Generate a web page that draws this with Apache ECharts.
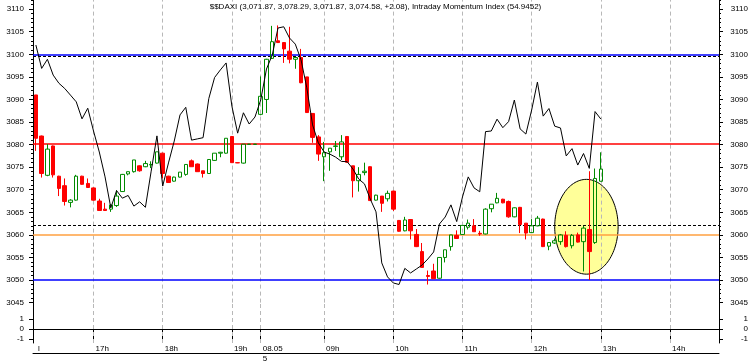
<!DOCTYPE html>
<html><head><meta charset="utf-8">
<script src="https://cdn.jsdelivr.net/npm/echarts@6/dist/echarts.min.js"></script>
<style>html,body{margin:0;padding:0;background:#fff}#c{width:751px;height:363px}</style>
</head><body><div id="c"></div>
<script>
// ---- data ----
const day1Times = ['16:10','16:15','16:20','16:25','16:30','16:35','16:40','16:45','16:50','16:55',
 '17:00','17:05','17:10','17:15','17:20','17:25','17:30','17:35','17:40','17:45','17:50','17:55',
 '18:00','18:05','18:10','18:15','18:20','18:25','18:30','18:35','18:40','18:45','18:50','18:55',
 '19:00','19:05','19:10','19:15','19:20'];
const day2Times = ['08:05','08:10','08:15','08:20','08:25','08:30','08:35','08:40','08:45','08:50','08:55',
 '09:00','09:05','09:10','09:15','09:20','09:25','09:30','09:35','09:40','09:45','09:50','09:55',
 '10:00','10:05','10:10','10:15','10:20','10:25','10:30','10:35','10:40','10:45','10:50','10:55',
 '11:00','11:05','11:10','11:15','11:20','11:25','11:30','11:35','11:40','11:45','11:50','11:55',
 '12:00','12:05','12:10','12:15','12:20','12:25','12:30','12:35','12:40','12:45','12:50','12:55',
 '13:00','13:05','13:10','13:15','13:20','13:25','13:30','13:35','13:40','13:45','13:50','13:55',
 '14:00','14:05','14:10','14:15','14:20','14:25','14:30','14:35','14:40'];
const times = day1Times.concat(day2Times);

const labelTimes = ['16:10','17:00','18:00','19:00','08:05','09:00','10:00','11:00','12:00','13:00','14:00'];
const labelTexts = ['l','17h','18h','19h','08.05\n5','09h','10h','11h','12h','13h','14h'];
const tickTimes  = ['17:00','18:00','19:00','08:05','09:00','10:00','11:00','12:00','13:00','14:00'];

const open = [3091.0,3081.9,3073.2,3079.7,3073.0,3070.9,3067.2,3067.7,3073.0,3071.4,
 3070.4,3067.5,3065.7,3065.7,3066.5,3069.6,3073.5,3074.0,3075.3,3075.1,
 3075.5,3075.9,3078.1,3073.0,3071.9,3072.8,3073.4,3076.4,3075.7,3074.2,
 3073.6,3076.5,3078.1,3078.1,3081.8,3076.0,3075.9,3080.05,3080.05,3086.7,
 3090.0,3099.1,3103.0,3102.6,3100.7,3098.9,3099.3,3095.0,3086.9,3081.7,
 3077.3,3078.4,3079.6,3077.3,3081.8,3075.3,3072.0,3073.8,3075.1,3067.7,
 3068.6,3068.0,3069.7,3063.2,3060.9,3063.4,3060.1,3056.3,3051.0,3052.0,
 3050.4,3055.0,3057.4,3059.9,3060.1,3061.7,3062.0,3060.35,3060.2,3065.8,
 3067.1,3067.9,3067.4,3064.0,3066.1,3062.6,3060.5,3062.0,3063.5,3057.5,
 3058.2,3058.5,3059.9,3057.6,3060.0,3058.5,3061.2,3058.3,3071.87];
const close = [3081.4,3073.6,3079.0,3073.3,3070.3,3067.4,3067.7,3073.0,3071.2,3070.5,
 3067.7,3065.4,3065.4,3066.6,3068.6,3073.4,3074.0,3076.6,3074.2,3075.8,
 3075.6,3078.4,3073.6,3071.6,3072.8,3073.9,3075.6,3075.1,3074.0,3073.6,
 3076.7,3078.1,3078.3,3081.4,3076.0,3075.95,3080.1,3080.1,3080.1,3090.7,
 3098.9,3102.8,3102.6,3101.2,3098.9,3099.3,3093.7,3087.1,3081.6,3077.9,
 3078.2,3079.2,3079.7,3080.6,3076.1,3072.0,3073.4,3074.1,3067.6,3068.8,
 3067.0,3069.2,3065.7,3060.8,3063.3,3060.9,3057.4,3052.8,3050.8,3050.3,
 3055.0,3056.7,3060.0,3059.2,3062.1,3062.6,3060.7,3060.2,3065.7,3066.8,
 3068.1,3067.1,3064.0,3066.0,3062.3,3060.4,3062.0,3063.7,3057.4,3058.3,
 3058.7,3060.0,3057.4,3059.9,3058.4,3061.5,3056.3,3072.50,3074.58];
const low = [3078.6,3072.7,3073.0,3072.7,3068.6,3066.5,3066.1,3067.6,3071.1,3070.4,
 3067.6,3065.4,3065.3,3065.1,3066.2,3069.5,3073.2,3073.8,3074.0,3075.0,
 3074.8,3075.8,3072.5,3071.6,3071.8,3072.7,3073.1,3075.1,3074.0,3072.7,
 3073.5,3076.4,3077.2,3078.0,3076.0,3075.9,3075.8,3080.0,3080.0,3086.5,
 3087.0,3099.0,3102.5,3098.1,3098.0,3096.8,3093.6,3087.0,3080.4,3076.4,
 3071.9,3074.2,3078.6,3076.6,3076.0,3068.3,3069.6,3073.2,3067.6,3067.6,
 3065.1,3067.4,3065.3,3060.7,3060.8,3059.0,3057.3,3052.8,3049.0,3050.3,
 3050.3,3053.9,3056.5,3059.2,3060.0,3061.2,3060.7,3059.8,3060.1,3065.0,
 3067.0,3067.0,3063.8,3063.9,3060.4,3059.0,3060.4,3061.9,3057.3,3056.6,
 3058.0,3057.8,3057.2,3057.0,3058.3,3051.9,3050.0,3058.0,3071.87];
const high = [3091.0,3082.0,3080.1,3079.8,3073.1,3072.5,3067.9,3073.3,3073.1,3072.5,
 3070.5,3068.0,3067.1,3066.8,3069.9,3073.5,3074.0,3076.6,3075.4,3076.4,
 3076.3,3078.4,3078.2,3073.1,3072.9,3073.9,3075.6,3076.7,3075.8,3074.2,
 3076.8,3078.1,3078.4,3081.4,3081.9,3076.0,3080.1,3080.1,3080.1,3095.1,
 3099.0,3106.3,3106.4,3102.7,3106.1,3099.4,3101.2,3095.0,3087.0,3082.1,
 3080.6,3079.2,3080.8,3082.1,3081.9,3075.3,3075.0,3076.0,3075.2,3068.9,
 3068.6,3069.8,3069.8,3063.3,3064.0,3063.5,3061.3,3058.2,3052.1,3053.6,
 3055.0,3056.7,3060.0,3061.0,3062.1,3063.4,3063.5,3060.9,3065.9,3066.8,
 3069.3,3068.0,3067.6,3066.1,3066.2,3062.6,3063.5,3064.2,3063.6,3058.4,
 3059.2,3060.2,3060.8,3060.2,3060.5,3062.0,3074.1,3074.7,3078.29];
// Intraday Momentum Index
const imi = [79.3,71.6,74.6,69.4,66.7,65.0,62.8,60.6,55.0,58.5,
 51.0,44.1,35.9,25.7,31.4,28.9,29.8,26.3,27.7,25.9,
 37.8,49.4,32.9,40.5,47.7,56.3,58.8,48.0,48.4,48.8,
 61.7,68.6,71.1,73.4,59.2,50.3,57.0,53.3,55.6,61.2,
 71.4,76.0,84.9,85.3,81.6,79.6,74.4,65.2,53.0,47.1,
 44.1,43.4,42.4,41.0,40.9,38.5,35.2,33.6,28.6,24.4,
 7.6,3.0,1.0,0.5,5.8,4.3,5.6,6.9,8.9,11.2,
 20.4,22.7,26.7,21.2,29.3,35.9,32.3,31.0,50.8,51.0,
 54.9,52.1,54.1,61.2,51.7,50.0,57.9,67.1,55.9,58.4,
 52.6,52.0,42.8,45.2,39.8,43.6,38.7,57.4,54.9452];

const levelValues = [3100, 3099.6, 3080.2, 3062.1, 3060.1, 3050];
const zoneTimes = ['12:20','13:15'];   // highlighted zone (ellipse) time span
const zonePrices = [3051.3, 3072.3];   // highlighted zone price span
const ticker = '$$DAXI';
const imiLast = 54.9452;

// ---- chart ----
const FONT = '"Liberation Sans", Arial, sans-serif';
const levelStyles = [
  {color:'#0000ff', width:1.6, type:'solid'},
  {color:'#000000', width:1, type:[3,2]},
  {color:'#ff0000', width:1.5, type:'solid'},
  {color:'#000000', width:1, type:[3,2]},
  {color:'#ffa040', width:1.5, type:'solid'},
  {color:'#0000ff', width:1.6, type:'solid'}
];
const vGrid = {color:'#b8b8b8', width:1, type:[4,3]};
const n = open.length;
const fmt = v => v.toLocaleString('en-US',{minimumFractionDigits:2, maximumFractionDigits:2});
const chg = close[n-1]-close[n-2];
const titleText = ticker + ' (' + fmt(open[n-1]) + ', ' + fmt(high[n-1]) + ', ' + fmt(low[n-1]) + ', ' +
  fmt(close[n-1]) + ', ' + (chg>=0?'+':'') + chg.toFixed(2) + '), Intraday Momentum Index (' + imiLast + ')';

const candleData = open.map((o,i)=>[o, close[i], low[i], high[i]]);
const zoneData = [[times.indexOf(zoneTimes[0]), times.indexOf(zoneTimes[1]), zonePrices[0], zonePrices[1]]];

const vLines = tickTimes.map(t=>({xAxis:t, lineStyle:vGrid}));
const hLines = levelValues.map((v,i)=>({yAxis:v, lineStyle:levelStyles[i]}));

const lab = {fontSize:8, fontFamily:FONT, color:'#000', formatter:v=>String(v)};
const priceAxis = (pos) => ({
  gridIndex:0, type:'value', position:pos, min:3045, max:3115, interval:5,
  splitLine:{show:false},
  axisLine:{show:true, lineStyle:{color:'#000', width:1}},
  axisTick:{show:true, length:4, lineStyle:{color:'#000'}},
  minorTick:{show:true, splitNumber:5, length:2, lineStyle:{color:'#000'}},
  axisLabel:Object.assign({}, lab, pos==='left'?{margin:9}:{align:'right', margin:29})
});
const subAxis = (pos) => ({
  gridIndex:1, type:'value', position:pos, min:-1.4, max:2.64,
  splitLine:{show:false},
  axisLine:{show:true, lineStyle:{color:'#000', width:1}},
  axisTick:{show:true, length:4, customValues:[-1,0,1], lineStyle:{color:'#000'}},
  axisLabel:Object.assign({customValues:[-1,0,1]}, lab, pos==='left'?{margin:9}:{align:'right', margin:29})
});
const gridBase = {left:33, right:32, containLabel:false, outerBoundsMode:'none'};

const chart = echarts.init(document.getElementById('c'), null, {renderer:'canvas'});
chart.setOption({
  animation:false,
  backgroundColor:'#ffffff',
  title:{text:titleText, left:'center', top:2, padding:0,
    textStyle:{fontSize:8, fontWeight:'normal', fontFamily:FONT, color:'#000', lineHeight:10}},
  grid:[
    Object.assign({top:-13.4, height:316}, gridBase),
    Object.assign({top:302.6, height:40.4}, gridBase),
    Object.assign({top:343, height:10}, gridBase)
  ],
  xAxis:[
    {gridIndex:0, type:'category', data:times, boundaryGap:true,
      axisLine:{show:false}, axisTick:{show:false}, axisLabel:{show:false}, splitLine:{show:false}},
    {gridIndex:1, type:'category', data:times, boundaryGap:true,
      axisLine:{show:true, lineStyle:{color:'#000', width:1}},
      axisTick:{show:true, alignWithLabel:true, length:10, inside:false,
        interval:(i,v)=>tickTimes.indexOf(v)>=0, lineStyle:{color:'#000'}},
      axisLabel:{fontSize:8, fontFamily:FONT, color:'#000', show:true,
        interval:(i,v)=>labelTimes.indexOf(v)>=0,
        formatter:v=>labelTexts[labelTimes.indexOf(v)] || '', align:'left', margin:1,
        padding:[0,0,0,2], lineHeight:10, hideOverlap:false},
      splitLine:{show:false}},
    {gridIndex:2, type:'category', data:times, boundaryGap:true,
      axisLine:{show:true, lineStyle:{color:'#000', width:1}},
      axisTick:{show:false}, axisLabel:{show:false}, splitLine:{show:false}}
  ],
  yAxis:[
    priceAxis('left'),
    priceAxis('right'),
    {gridIndex:0, type:'value', min:-5.46, max:98.52, show:false},
    subAxis('left'),
    subAxis('right'),
    {gridIndex:2, type:'value', show:false}
  ],
  series:[
    {type:'custom', name:'zone', xAxisIndex:0, yAxisIndex:0, z:1, silent:true,
      data:zoneData, encode:{x:[0,1], y:[2,3]},
      renderItem:(params, api)=>{
        const p1 = api.coord([api.value(0), api.value(3)]);
        const p2 = api.coord([api.value(1), api.value(2)]);
        const cx=(p1[0]+p2[0])/2, cy=(p1[1]+p2[1])/2;
        const rx=Math.abs(p2[0]-p1[0])/2, ry=Math.abs(p2[1]-p1[1])/2;
        const pts=[];
        for(let k=0;k<120;k++){const a=k/120*2*Math.PI; pts.push([cx+rx*Math.cos(a), cy+ry*Math.sin(a)]);}
        return {type:'polygon', shape:{points:pts}, style:{fill:'#ffff99', stroke:'#000', lineWidth:1}};
      }},
    {type:'candlestick', name:ticker, xAxisIndex:0, yAxisIndex:0, z:20, barWidth:4,
      data:candleData,
      itemStyle:{color:'rgba(0,0,0,0)', color0:'#ff0000', borderColor:'#008a00', borderColor0:'#ff0000', borderWidth:1},
      emphasis:{disabled:true},
      markLine:{silent:true, symbol:'none', label:{show:false}, animation:false,
        data: vLines.concat(hLines)}},
    {type:'line', name:'Intraday Momentum Index', xAxisIndex:0, yAxisIndex:2, z:25, silent:true,
      data:imi, symbol:'none', lineStyle:{color:'#000', width:1}, emphasis:{disabled:true}},
    {type:'line', name:'sub', xAxisIndex:1, yAxisIndex:3, silent:true, symbol:'none',
      data:times.map(()=>null),
      markLine:{silent:true, symbol:'none', label:{show:false}, animation:false, data:vLines}}
  ]
});
</script></body></html>
